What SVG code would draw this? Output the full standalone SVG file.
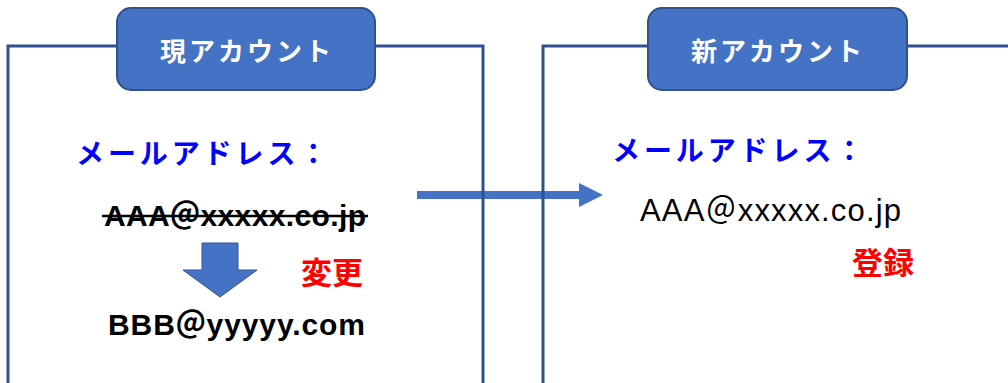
<svg xmlns="http://www.w3.org/2000/svg" width="1008" height="383" viewBox="0 0 1008 383">
  <style>
    .frame { fill: none; stroke: #2F528F; stroke-width: 3; }
    .tab { fill: #4472C4; stroke: #2F528F; stroke-width: 2; }
    .tabtext { font-family: "Noto Sans CJK JP", sans-serif; font-weight: bold; font-size: 26px; fill: #FFFFFF; text-anchor: middle; letter-spacing: 3px; }
    .label { font-family: "Noto Sans CJK JP", sans-serif; font-weight: bold; font-size: 28px; fill: #0000FF; letter-spacing: 3.9px; }
    .mail { font-family: "Liberation Sans", "Noto Sans CJK JP", sans-serif; font-size: 30px; fill: #000000; }
    .bold { font-weight: bold; }
    .note { font-family: "Noto Sans CJK JP", sans-serif; font-weight: bold; font-size: 31px; fill: #FF0000; }
    .flow { fill: #4472C4; }
  </style>

  <rect width="1008" height="383" fill="#FFFFFF"/>

  <!-- connectors: transfer arrow and change arrow -->
  <g id="connectors">
    <rect class="flow" x="417" y="191" width="164" height="8"/>
    <polygon class="flow" points="579,183 603,195 579,207"/>
    <polygon class="flow" points="202,243 238,243 238,270 257,270 220,297 183,270 202,270" stroke="#2F528F" stroke-width="1"/>
  </g>

  <!-- current account -->
  <g id="current-account">
    <polyline class="frame" points="8,383 8,46 483,46 483,383"/>
    <rect class="tab" x="117" y="8" width="258" height="82" rx="14" ry="14"/>
    <text class="tabtext" x="247" y="61">現アカウント</text>
    <text class="label" x="76" y="164">メールアドレス：</text>
    <text class="mail bold" x="104" y="226" textLength="262" lengthAdjust="spacing">AAA＠xxxxx.co.jp</text>
    <line x1="102" y1="216" x2="368" y2="216" stroke="#000000" stroke-width="2.5"/>
    <text class="note" x="301" y="284">変更</text>
    <text class="mail bold" x="108" y="335" textLength="257" lengthAdjust="spacing">BBB＠yyyyy.com</text>
  </g>

  <!-- new account -->
  <g id="new-account">
    <polyline class="frame" points="543,383 543,46 1010,46"/>
    <rect class="tab" x="648" y="8" width="259" height="82" rx="14" ry="14"/>
    <text class="tabtext" x="778" y="61">新アカウント</text>
    <text class="label" x="612" y="161">メールアドレス：</text>
    <text class="mail" x="640" y="221" textLength="261" lengthAdjust="spacing" style="font-size:31px">AAA＠xxxxx.co.jp</text>
    <text class="note" x="852" y="274">登録</text>
  </g>
</svg>
